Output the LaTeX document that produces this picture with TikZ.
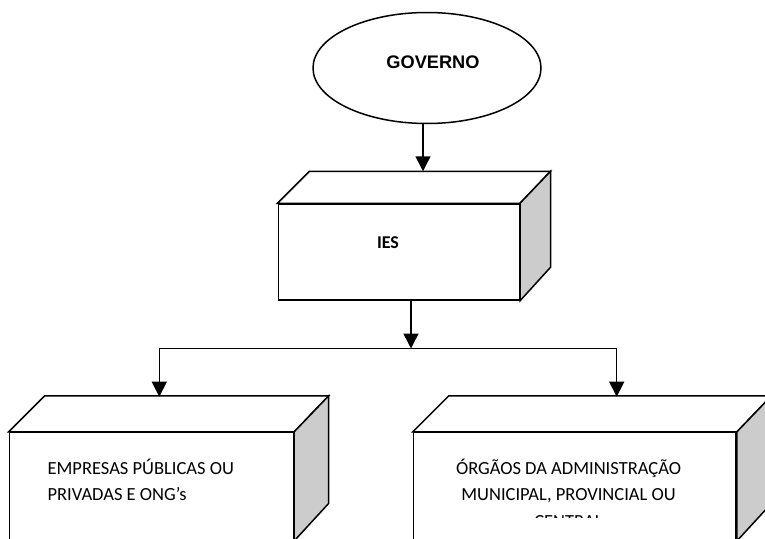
\documentclass[tikz,border=0pt]{standalone}
\usepackage{fontspec}
\newfontfamily\calibri{Carlito}
\newfontfamily\arial{Liberation Sans}
\usetikzlibrary{arrows.meta,shapes.geometric}

\tikzset{
  line/.style={line width=1.5pt},
  arr/.style={line, -{Triangle[width=15pt,length=15pt]}},
  front/.style={line, draw, fill=white, rectangle, inner sep=0pt},
  topface/.style={line, fill=white, line join=miter},
  sideface/.style={line, fill=black!20, line join=miter},
  boxtext/.style={font=\calibri\fontsize{18.5}{26.5}\selectfont, inner sep=0pt},
  boldtext/.style={font=\calibri\bfseries\fontsize{18}{22}\selectfont, inner sep=0pt},
}

\begin{document}
\begin{tikzpicture}[x=1pt,y=-1pt]
    \clip (0,0) rectangle (765,538);
    % governo
    \node[line, draw, ellipse, minimum width=228pt, minimum height=111pt] (gov) at (427,68) {};
    \node[font=\arial\bfseries\fontsize{18.2}{22}\selectfont, inner sep=0pt] (govtxt) at (433,62) {GOVERNO};
    % ies box
    \node[front, minimum width=241pt, minimum height=96pt] (ies) at (398.8,252) {};
    \draw[topface] (ies.north west) -- ++(32,-32) coordinate (iesbl) -- ++(241,0) coordinate (iesbr) -- (ies.north east) -- cycle;
    \draw[sideface] (ies.north east) -- (iesbr) -- ++(0,96) -- (ies.south east) -- cycle;
    \node[boldtext] (iestxt) at (388,243) {IES};
    % lower boxes
    \node[front, minimum width=284pt, minimum height=107.6pt] (emp) at (151.3,486.5) {};
    \draw[topface] (emp.north west) -- ++(36,-36) -- ++(284,0) coordinate (empbr) -- (emp.north east) -- cycle;
    \draw[sideface] (emp.north east) -- (empbr) -- ++(0,107.6) -- (emp.south east) -- cycle;
    \node[front, minimum width=322.7pt, minimum height=107.6pt] (org) at (574.7,486.5) {};
    \draw[topface] (org.north west) -- ++(36,-36) -- ++(322.7,0) coordinate (orgbr) -- (org.north east) -- cycle;
    \draw[sideface] (org.north east) -- (orgbr) -- ++(0,107.6) -- (org.south east) -- cycle;
    \node[boxtext, align=left, anchor=west] (emptxt) at (47.4,480) {EMPRESAS PÚBLICAS OU\\PRIVADAS E ONG’s};
    \begin{scope}
        \clip (org.north west) rectangle (736,517.7);
        \node[boxtext, align=center] (orgtxt) at (568.5,493) {ÓRGÃOS DA ADMINISTRAÇÃO\\MUNICIPAL, PROVINCIAL OU\\CENTRAL};
    \end{scope}
    % arrows
    \coordinate (split) at (411,348.5);
    \coordinate (empin) at (159.3,396.7);
    \coordinate (orgin) at (616.7,396.7);
    \draw[arr] ([xshift=-4pt]gov.south) -- ([xshift=-4pt]gov.south |- iesbl);
    \draw[arr] (ies.south -| split) -- (split);
    \draw[arr] (split) -| (empin);
    \draw[arr] (split) -| (orgin);
\end{tikzpicture}
\end{document}
